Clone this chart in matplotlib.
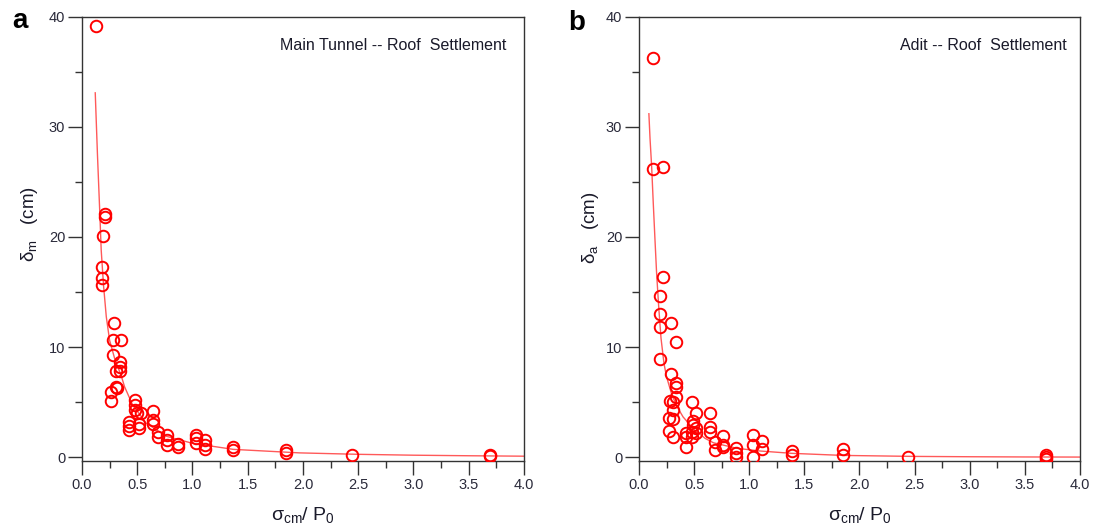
import matplotlib
matplotlib.use("Agg")
import matplotlib.pyplot as plt
from matplotlib.ticker import MultipleLocator

plt.rcParams['font.family'] = ['Liberation Sans', 'DejaVu Sans']
plt.rcParams['mathtext.fontset'] = 'custom'
plt.rcParams['mathtext.rm'] = 'Liberation Sans'
plt.rcParams['mathtext.it'] = 'Liberation Sans'

# panel a: main tunnel roof settlement
a_x = [0.13, 0.21, 0.21, 0.19, 0.184, 0.184, 0.184, 0.29, 0.284, 0.351, 0.284,
       0.342, 0.342, 0.31, 0.34, 0.31, 0.32, 0.266, 0.266,
       0.48, 0.48, 0.48, 0.50, 0.53, 0.426, 0.426, 0.426, 0.517, 0.517,
       0.644, 0.644, 0.644, 0.69, 0.69, 0.765, 0.765, 0.765, 0.87, 0.87,
       1.03, 1.03, 1.03, 1.11, 1.11, 1.11, 1.37, 1.37, 1.85, 1.85, 2.44, 3.69, 3.69]
a_y = [39.2, 22.1, 21.8, 20.1, 17.25, 16.3, 15.6, 12.15, 10.6, 10.6, 9.3,
       8.6, 8.2, 7.85, 7.85, 6.4, 6.25, 5.95, 5.1,
       5.2, 4.7, 4.3, 4.0, 4.0, 3.2, 2.85, 2.45, 3.05, 2.6,
       4.2, 3.35, 3.05, 2.3, 1.85, 2.0, 1.55, 1.1, 1.2, 0.95,
       2.05, 1.75, 1.25, 1.55, 1.1, 0.75, 0.95, 0.65, 0.65, 0.4, 0.15, 0.2, 0.1]
a_fit_x = [0.12, 0.14, 0.16, 0.174, 0.195, 0.22, 0.25, 0.30, 0.355, 0.385, 0.46,
           0.58, 0.76, 1.0, 1.37, 1.97, 2.5, 3.0, 3.5, 4.0]
a_fit_y = [33.1, 27.5, 22.5, 18.8, 15.6, 12.75, 10.6, 8.8, 7.4, 6.4, 4.7,
           3.1, 1.9, 1.25, 0.7, 0.38, 0.25, 0.17, 0.12, 0.08]

# panel b: adit roof settlement
b_x = [0.127, 0.13, 0.215, 0.215, 0.19, 0.19, 0.29, 0.19, 0.335, 0.19, 0.295,
       0.34, 0.34, 0.34, 0.28, 0.31, 0.31, 0.27, 0.305, 0.27, 0.31,
       0.485, 0.515, 0.49, 0.49, 0.515, 0.48, 0.515, 0.48, 0.43, 0.43, 0.43,
       0.645, 0.645, 0.645, 0.69, 0.69, 0.765, 0.765, 0.765, 0.88, 0.88, 0.88,
       1.035, 1.035, 1.035, 1.12, 1.12, 1.385, 1.385, 1.85, 1.85, 2.44,
       3.69, 3.69, 3.69]
b_y = [36.3, 26.2, 26.4, 16.4, 14.6, 13.0, 12.15, 11.8, 10.45, 8.9, 7.55,
       6.7, 6.4, 5.5, 5.1, 5.0, 4.3, 3.55, 3.5, 2.35, 1.85,
       5.0, 4.0, 3.25, 2.9, 2.6, 2.3, 2.15, 1.85, 2.15, 1.8, 0.95,
       4.0, 2.75, 2.3, 1.4, 0.65, 1.9, 1.1, 0.9, 0.8, 0.4, 0.0,
       2.0, 1.1, 0.0, 1.5, 0.7, 0.55, 0.2, 0.7, 0.2, 0.0,
       0.2, 0.0, -0.15]
b_fit_x = [0.09, 0.10, 0.115, 0.13, 0.145, 0.16, 0.18, 0.20, 0.227, 0.25, 0.30,
           0.35, 0.40, 0.50, 0.60, 0.675, 0.886, 1.1, 1.385, 1.85, 2.5, 3.0, 3.5, 4.0]
b_fit_y = [31.2, 29.0, 26.4, 23.0, 19.8, 16.7, 13.5, 10.8, 8.5, 7.3, 5.6,
           4.5, 3.65, 2.5, 1.7, 1.3, 0.8, 0.55, 0.34, 0.15, 0.06, 0.03, 0.01, 0.0]

fig = plt.figure(figsize=(10.96, 5.28), dpi=100)
ax_a = fig.add_axes([0.0748, 0.126, 0.4033, 0.842])
ax_b = fig.add_axes([0.583, 0.126, 0.4024, 0.842])

panels = [
    (ax_a, a_x, a_y, a_fit_x, a_fit_y, 'Main Tunnel -- Roof  Settlement',
     r'δ$_{\rm m}$   (cm)', 0.961, (-0.118, 0.534)),
    (ax_b, b_x, b_y, b_fit_x, b_fit_y, 'Adit -- Roof  Settlement',
     r'δ$_{\rm a}$   (cm)', 0.97, (-0.111, 0.525)),
]

for ax, px, py, fx, fy, title, ylab, tx, ylc in panels:
    ax.plot(fx, fy, color='#ff0000', lw=1.0, alpha=0.65, zorder=2)
    ax.plot(px, py, linestyle='none', marker='o', ms=8.3, mfc='none',
            mec='#ff0000', mew=1.4, zorder=3)
    ax.set_xlim(0, 4.0)
    ax.set_ylim(-0.4, 40)
    ax.xaxis.set_major_locator(MultipleLocator(0.5))
    ax.xaxis.set_minor_locator(MultipleLocator(0.25))
    ax.yaxis.set_major_locator(MultipleLocator(10))
    ax.yaxis.set_minor_locator(MultipleLocator(5))
    ax.xaxis.set_major_formatter('{x:.1f}')
    ax.tick_params(which='major', direction='out', length=10, width=1, pad=2,
                   labelsize=10.5, labelcolor='#2a2a3a', color='#333333')
    ax.tick_params(which='minor', direction='out', length=5, width=1, color='#333333')
    for s in ax.spines.values():
        s.set_color('#333333')
        s.set_linewidth(1.0)
    ax.text(tx, 0.935, title, transform=ax.transAxes, ha='right', va='center',
            fontsize=11.5, color='#1a1a2a')
    ax.set_xlabel(r'σ$_{\rm cm}$/ P$_0$', fontsize=14, color='#1a1a2a')
    ax.xaxis.set_label_coords(0.5, -0.12)
    ax.set_ylabel(ylab, fontsize=13.5, color='#1a1a2a')
    ax.yaxis.set_label_coords(*ylc)
    # label coords set the centre line; shift so the text is centred there
    ax.yaxis.label.set_va('center')
    ax.xaxis.label.set_va('center')

fig.text(0.011, 1 - 28 / 528, 'a', fontsize=20, fontweight='bold', va='baseline')
fig.text(568 / 1096, 1 - 30 / 528, 'b', fontsize=20, fontweight='bold', va='baseline')

fig.savefig('out.png', dpi=100)
